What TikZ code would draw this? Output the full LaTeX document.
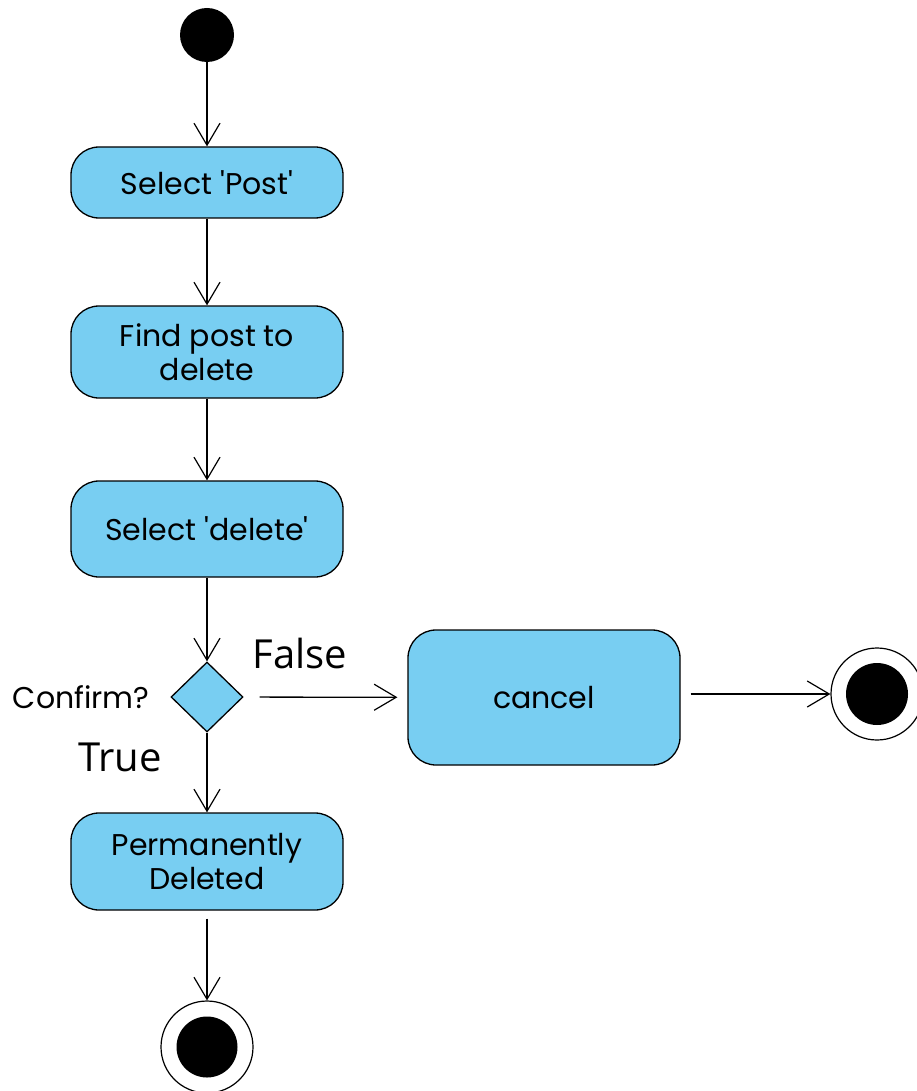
\documentclass[tikz,border=0pt]{standalone}
\usepackage{fontspec}
\usepackage{tikz}
\usetikzlibrary{shapes.geometric, arrows.meta, positioning}
\newfontfamily\boxfont{Poppins}
\newfontfamily\guardfont{Open Sans}
\definecolor{actcolor}{RGB}{120,206,242}

\begin{document}
\begin{tikzpicture}[
    x=1pt, y=-1pt,
    action/.style={draw, line width=1.3pt, fill=actcolor, rounded corners=28pt, minimum width=272pt, align=center, font=\boxfont\fontsize{30}{34}\selectfont},
    decision/.style={draw, line width=1.3pt, fill=actcolor, diamond, minimum width=72pt, minimum height=70pt, inner sep=0pt},
    startnode/.style={circle, fill=black, minimum size=54pt, inner sep=0pt},
    endring/.style={circle, draw, line width=1.2pt, fill=white, minimum size=92pt, inner sep=0pt},
    arrow/.style={-{Straight Barb[length=22pt, width=26pt, line width=1.2pt]}, line width=1.3pt},
    guard/.style={font=\guardfont\fontsize{40}{46}\selectfont}
]
    \useasboundingbox (0,0) rectangle (916,1091);
    % Entities
    \node[startnode] (start) at (207,35) {};
    \node[action, minimum height=71pt] (post) at (207,182.5) {Select 'Post'};
    \node[action, minimum height=92pt] (find) at (207,352) {Find post to\\delete};
    \node[action, minimum height=96pt] (seldel) at (207,529) {Select 'delete'};
    \node[decision] (confirm) at (207,697) {};
    \node[anchor=east, font=\boxfont\fontsize{30}{34}\selectfont] (confirmlbl) at (153,697) {Confirm?};
    \node[action, minimum width=272pt, minimum height=135pt] (cancel) at (544,697.5) {cancel};
    \node[action, minimum height=97pt] (perm) at (207,861.5) {Permanently\\Deleted};
    \node[endring] (endright) at (877,694) {};
    \fill (endright.center) circle (31);
    \node[endring] (endbottom) at (207,1047) {};
    \fill (endbottom.center) circle (30.5);
    \node[guard] (falselbl) at (300,653) {False};
    \node[guard] (truelbl) at (120,757) {True};

    % Relationships
    \draw[arrow] (start) -- (post);
    \draw[arrow] (post) -- (find);
    \draw[arrow] (find) -- (seldel);
    \draw[arrow] (seldel) -- (confirm);
    \draw[arrow, shorten <=16pt, shorten >=10pt] (confirm) -- (cancel);
    \draw[arrow] (confirm) -- (perm);
    \draw[arrow, shorten <=10pt] (cancel.east |- endright) -- (endright);
    \draw[arrow, shorten <=8pt] (perm) -- (endbottom);
\end{tikzpicture}
\end{document}
